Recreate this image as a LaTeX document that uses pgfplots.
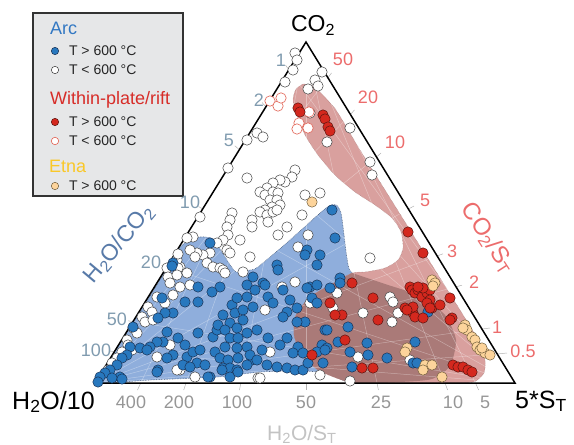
\documentclass[border=0pt]{standalone}
\usepackage{pgfplots}
\pgfplotsset{compat=1.18}
\usepackage{fontspec}
\setmainfont{Liberation Sans}
\definecolor{arcblue}{RGB}{40,120,190}
\definecolor{arcedge}{RGB}{25,50,85}
\definecolor{wpred}{RGB}{212,40,30}
\definecolor{wpedge}{RGB}{90,20,15}
\definecolor{wpopen}{RGB}{225,95,80}
\definecolor{etna}{RGB}{253,212,155}
\definecolor{etnaedge}{RGB}{115,95,60}
\definecolor{blueregion}{RGB}{143,174,220}
\definecolor{pinkregion}{RGB}{217,160,158}
\definecolor{darkregion}{RGB}{170,122,120}
\definecolor{legbg}{RGB}{230,231,232}
\definecolor{lefttick}{RGB}{128,155,175}
\definecolor{lefttitle}{RGB}{88,122,168}
\definecolor{righttick}{RGB}{236,108,108}
\definecolor{bottick}{RGB}{150,150,150}
\definecolor{bottitle}{RGB}{195,195,195}
\definecolor{arctext}{RGB}{50,120,195}
\definecolor{wptext}{RGB}{215,45,40}
\definecolor{etnatext}{RGB}{250,200,40}
\newcommand{\fs}[1]{\fontsize{#1bp}{#1bp}\selectfont}
\newcommand{\fl}[2]{\draw[white, opacity=0.35, line width=0.5bp] (axis cs:#1) -- (axis cs:#2);}
\newcommand{\tk}[2]{\draw[black!30, line width=0.5bp] (axis cs:#1) -- (axis cs:#2);}
\newcommand{\lab}[3]{\node[inner sep=0, text=#1, font=\fs{18}] at (axis cs:#2) {#3};}
\begin{document}
\begin{tikzpicture}
\path[use as bounding box] (0,0) rectangle (574bp,445bp);
\begin{axis}[at={(0,0)}, anchor=south west, scale only axis,
  width=574bp, height=445bp, xmin=0, xmax=574, ymin=0, ymax=445,
  y dir=reverse, hide axis, clip=false,
  legend style={at={(axis cs:51,41.5)}, anchor=north west, draw=none, fill=none,
    inner sep=0pt, outer sep=0pt, row sep=0pt, column sep=0pt,
    font=\fs{14}, text=black!85,
    nodes={inner sep=0pt, minimum height=19bp, anchor=west},
    /tikz/every odd column/.append style={column sep=10bp}},
  legend cell align=left]

% legend box
\draw[fill=legbg, draw=black!80, line width=1.3bp] (axis cs:33,13) rectangle (axis cs:183,196);

% regions
\addplot[forget plot, fill=blueregion, draw=arcedge!80, densely dotted, line width=0.6bp, smooth, tension=0.4] coordinates {
(96,384) (102,372) (120,343) (140,312) (158,283) (170,262) (178,250) (187,241) (200,237) (213,239) (225,257) (236,272) (250,270) (258,267) (290,240) (326,208) (336,205) (341,213) (344,235) (347,258) (352,273) (385,284) (420,296) (445,315) (456,340) (450,366) (432,379) (400,382) (360,383) (342,380) (330,373) (300,371) (260,372) (217,377) (150,380) (110,383) (96,384)};
\addplot[forget plot, fill=pinkregion, draw=pinkregion!70!black, densely dotted, line width=0.4bp, smooth, tension=0.4] coordinates {
(303,84) (311,85) (318,90) (336,110) (360,150) (385,190) (410,230) (435,270) (460,310) (478,340) (485,360) (484,373) (476,381) (465,383) (440,383) (400,383) (360,383) (342,380) (318,370) (302,355) (294,335) (296,315) (310,297) (330,285) (352,273) (365,272) (385,268) (398,260) (403,248) (401,232) (392,218) (375,205) (355,192) (335,175) (318,155) (305,135) (297,115) (293,100) (296,89) (303,84)};
\addplot[forget plot, fill=darkregion, draw=none, smooth, tension=0.4] coordinates {
(352,273) (385,284) (420,296) (445,315) (456,340) (450,366) (432,379) (400,382) (360,383) (342,380) (318,370) (302,355) (294,335) (296,315) (310,297) (330,285) (352,273)};

% faint ratio lines
\fl{289,70}{515,383} \fl{266,107}{515,383} \fl{239.4,149.7}{515,383} \fl{202.7,209}{515,383}
\fl{166.8,267}{515,383} \fl{133,321.6}{515,383} \fl{114.5,351.5}{515,383}
\fl{327.9,77.8}{95,383} \fl{350.4,114.4}{95,383} \fl{376.5,157}{95,383} \fl{408.5,209}{95,383}
\fl{437,256}{95,383} \fl{456,286.8}{95,383} \fl{482,329}{95,383} \fl{497,354}{95,383}
\fl{140.7,383}{306,42} \fl{186,383}{306,42} \fl{240.8,383}{306,42} \fl{306,383}{306,42}
\fl{377,383}{306,42} \fl{445,383}{306,42} \fl{475.5,383}{306,42}

% tick marks
\tk{289,70}{285.5,65.1} \tk{266,107}{262,102.5} \tk{239.4,149.7}{234.8,145.8} \tk{202.7,209}{198.5,206.5}
\tk{166.8,267}{161.5,265.2} \tk{133,321.6}{128,320.8} \tk{114.5,351.5}{110,351.1}
\tk{327.9,77.8}{331.5,73} \tk{350.4,114.4}{354.5,110} \tk{376.5,157}{381,153} \tk{408.5,209}{414,206}
\tk{437,256}{443,253.8} \tk{456,286.8}{462,285.2} \tk{482,329}{490,328} \tk{497,354}{507,353}
\tk{140.7,383}{137.5,390} \tk{186,383}{183.7,390} \tk{240.8,383}{239.5,390} \tk{306,383}{306,390}
\tk{377,383}{378.4,390} \tk{445,383}{447.6,390} \tk{475.5,383}{478.6,390}

% triangle
\addplot[forget plot, black, line width=1.5bp, line join=miter] coordinates {(95,383) (306,42) (515,383)} -- cycle;

% Arc T<600
\addplot[forget plot, only marks, mark=*, mark size=5.2bp, mark options={fill=white, draw=black!75, line width=0.5bp}] coordinates {
(295,53) (297,60) (293,70) (285,82) (322,72) (315,80) (318,86) (308,89)
(310,113) (327,142) (350,128) (370,162) (372,175)
(247,140) (257,133) (263,137) (228,168) (247,178) (200,217)
(295,170) (292,177) (285,182) (280,180) (273,183) (267,188) (260,192) (265,195) (273,192) (278,193) (270,200) (277,200) (280,205) (272,207) (265,210) (260,212) (267,215) (273,212) (277,210) (268,222) (252,220) (252,227) (287,227) (278,235) (305,195) (320,193) (302,215) (308,235) (298,247)
(232,213) (230,220) (227,227) (228,235) (223,240) (217,243) (240,240) (227,250) (230,253) (250,257) (210,253) (203,255) (197,253) (190,250) (193,237) (187,238) (195,257) (207,263) (213,267) (220,268) (223,270) (180,267) (180,287) (295,282) (370,258)
(177,260) (178,268) (167,268) (178,254)
(187,273) (168,277) (177,275) (170,283) (190,285) (157,297) (173,295) (165,303) (148,307) (152,312) (142,317) (145,322) (153,320) (133,328) (137,333) (127,340) (128,345) (122,352) (117,358) (112,363) (108,370) (170,345) (157,357) (180,370) (195,377) (132,350) (177,370) (258,378) (225,273) (243,272)
(282,287) (265,310) (310,303) (337,293) (333,308) (363,313) (390,297) (393,302) (398,313) (392,322) (270,352) (320,375) (260,378) (350,381) (358,357) (410,360)};

% Arc T>600
\addplot[forget plot, only marks, mark=*, mark size=5.2bp, mark options={fill=arcblue, draw=arcedge, line width=0.5bp}] coordinates {
(210,243) (173,263) (172,266) (253,277) (263,283) (247,285) (220,287) (198,287)
(332,210) (335,238) (307,250) (320,255) (305,255) (317,265) (277,265) (278,270) (340,278) (310,287) (317,285)
(265,285) (283,290) (307,288) (330,288) (340,283) (268,297) (290,300) (312,298) (317,303) (253,307) (273,303) (297,308) (287,312) (283,317) (305,322) (297,322) (325,330) (348,327) (257,330) (268,338) (287,338) (262,350) (280,345) (298,347) (322,345) (327,348) (317,352) (293,353) (303,353) (252,360) (267,365) (277,367) (287,368) (295,370) (303,370) (308,363) (323,363) (325,350) (350,352) (352,367) (367,343) (368,355) (387,358) (415,342) (413,363) (327,330) (338,342)
(428,312) (417,363)
(162,298) (185,302) (173,313) (165,313) (158,318) (133,327) (167,332) (178,338) (163,342) (157,342) (150,347) (140,348) (130,347) (127,355) (122,358) (117,365) (110,370) (105,373) (100,377) (98,382) (120,377) (112,378) (158,370) (147,350) (185,345) (187,357) (173,355) (167,358) (193,352) (200,350) (198,333) (197,363) (183,365) (190,367) (205,365) (210,377) (213,337) (217,330) (218,325) (223,315) (232,305) (235,313) (243,310) (243,320) (230,323) (225,330) (237,328) (230,338) (238,338) (247,333) (247,347) (237,348) (225,347) (215,352) (220,358) (228,360) (238,358) (250,355) (257,360) (247,365) (223,368) (230,368) (237,370) (230,377) (222,370) (255,290) (247,297) (237,298)
(122,379) (157,372) (208,377) (238,372) (212,292) (198,302)};

% Within-plate T<600
\addplot[forget plot, only marks, mark=*, mark size=5.2bp, mark options={fill=white, draw=wpopen, line width=0.6bp}] coordinates {
(270,101) (278,106) (281,98) (299,123) (297,129) (308,128) (309,112)};

% Within-plate T>600
\addplot[forget plot, only marks, mark=*, mark size=5.2bp, mark options={fill=wpred, draw=wpedge, line width=0.5bp}] coordinates {
(298,108) (300,112) (323,115) (325,119) (328,127) (330,131)
(408,232) (423,253)
(410,287) (412,290) (415,293) (418,290) (423,293) (422,297) (427,293) (430,290) (430,300) (427,303) (432,308) (440,305) (450,298) (405,308) (410,310) (413,313) (415,317) (423,318) (452,318) (423,288) (418,287) (413,307) (407,310) (430,308) (450,320)
(453,365) (458,367) (463,367) (468,370) (472,372)
(352,283) (330,303) (342,315) (335,315) (373,298) (378,320) (345,340) (312,355) (362,368) (373,368)};

% Etna
\addplot[forget plot, only marks, mark=*, mark size=5.2bp, mark options={fill=etna, draw=etnaedge, line width=0.5bp}] coordinates {
(312,202) (432,280) (435,283) (433,286) (465,325) (467,330) (472,337) (475,340) (477,347) (480,350) (485,353) (490,355) (463,328) (482,348) (407,348) (405,352) (425,365) (432,365) (423,370) (442,377)};

% legend entries
\addlegendimage{legend image code/.code={\draw[fill=arcblue, draw=arcedge, line width=0.5bp] (0bp,0bp) circle (3.7bp);}}
\addlegendentry{T > 600 °C}
\addlegendimage{legend image code/.code={\draw[fill=white, draw=black!75, line width=0.5bp] (0bp,0bp) circle (3.7bp);}}
\addlegendentry{T < 600 °C}
\addlegendimage{empty legend}
\addlegendentry[minimum height=33bp]{\phantom{T}}
\addlegendimage{legend image code/.code={\draw[fill=wpred, draw=wpedge, line width=0.5bp] (0bp,0bp) circle (3.7bp);}}
\addlegendentry{T > 600 °C}
\addlegendimage{legend image code/.code={\draw[fill=white, draw=wpopen, line width=0.6bp] (0bp,0bp) circle (3.7bp);}}
\addlegendentry{T < 600 °C}
\addlegendimage{empty legend}
\addlegendentry[minimum height=26bp]{\phantom{T}}
\addlegendimage{legend image code/.code={\draw[fill=etna, draw=etnaedge, line width=0.5bp] (0bp,0bp) circle (3.7bp);}}
\addlegendentry{T > 600 °C}

% legend group titles
\node[anchor=base west, inner sep=0, text=arctext, font=\fs{18}] at (axis cs:50,35) {Arc};
\node[anchor=base west, inner sep=0, text=wptext, font=\fs{18}] at (axis cs:50,104) {Within-plate/rift};
\node[anchor=base west, inner sep=0, text=etnatext, font=\fs{18}] at (axis cs:49,172) {Etna};

% vertex titles
\node[anchor=base, inner sep=0, font=\fs{23}] at (axis cs:313,31.7) {CO\textsubscript{2}};
\node[anchor=base west, inner sep=0, font=\fs{25}] at (axis cs:12,409) {H\textsubscript{2}O/10};
\node[anchor=base west, inner sep=0, font=\fs{25}] at (axis cs:515,408) {5*S\textsubscript{T}};

% side titles
\node[inner sep=0, rotate=50, text=lefttitle, font=\fs{23}] at (axis cs:119,244) {H\textsubscript{2}O/CO\textsubscript{2}};
\node[inner sep=0, rotate=-57, text=righttick, font=\fs{24}] at (axis cs:488,238) {CO\textsubscript{2}/S\textsubscript{T}};
\node[anchor=base west, inner sep=0, text=bottitle, font=\fs{21}] at (axis cs:267,440) {H\textsubscript{2}O/S\textsubscript{T}};

% left tick labels
\lab{lefttick}{281,60}{1} \lab{lefttick}{259,100}{2} \lab{lefttick}{229,140}{5} \lab{lefttick}{190,202}{10}
\lab{lefttick}{151,262}{20} \lab{lefttick}{117,319}{50} \lab{lefttick}{96,350}{100}
% right tick labels
\lab{righttick}{343,59}{50} \lab{righttick}{368,97}{20} \lab{righttick}{395,142}{10} \lab{righttick}{425,200}{5}
\lab{righttick}{452,251}{3} \lab{righttick}{474,282}{2} \lab{righttick}{497,327}{1} \lab{righttick}{523,351}{0.5}
% bottom tick labels
\lab{bottick}{131,402}{400} \lab{bottick}{179,402}{200} \lab{bottick}{237,402}{100} \lab{bottick}{306,402}{50}
\lab{bottick}{381,402}{25} \lab{bottick}{453,402}{10} \lab{bottick}{485,402}{5}
\end{axis}
\end{tikzpicture}
\end{document}
